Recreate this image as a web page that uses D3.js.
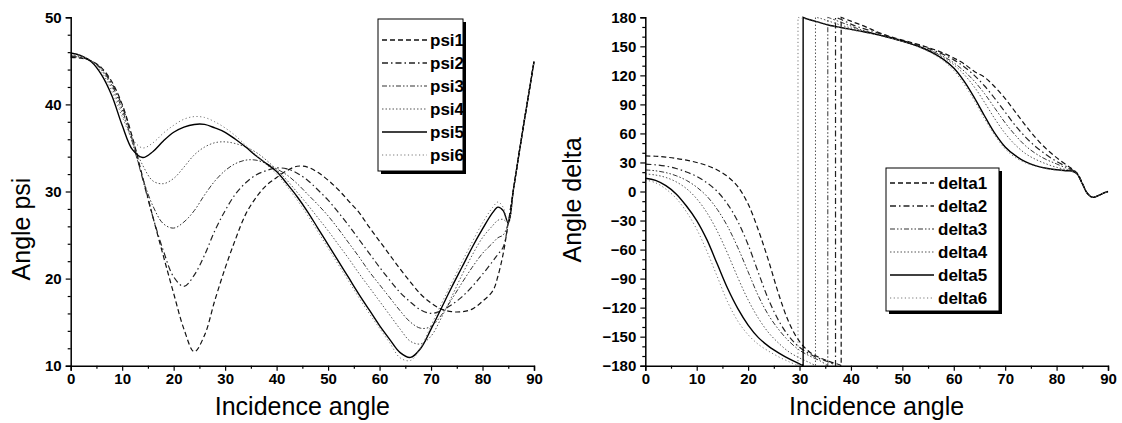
<!DOCTYPE html>
<html>
<head>
<meta charset="utf-8">
<script src="https://cdn.jsdelivr.net/npm/d3@7/dist/d3.min.js"></script>
<style>
  body { margin: 0; background: #fff; }
  svg text { font-family: "Liberation Sans", Arial, sans-serif; }
</style>
</head>
<body>
<div id="app"></div>
<script>
// incidence angles shared by every curve
const angles = [0,2,4,6,8,10,12,14,16,18,20,22,24,26,28,30,32,34,36,38,40,42,44,46,48,50,52,54,56,58,60,62,64,66,68,70,72,74,76,78,80,82,83,84,85,86,87,88,89,90];

const psiNames = ['psi1', 'psi2', 'psi3', 'psi4', 'psi5', 'psi6'];
const psi1 = [45.4,45.3,45.0,44.2,42.6,40.0,36.2,31.6,27.0,22.6,18.3,14.2,11.6,13.5,17.5,21.2,24.5,27.4,29.3,30.7,31.6,32.4,32.9,32.8,32.2,31.3,30.2,28.9,27.6,25.9,24.3,22.7,21.1,19.6,18.2,17.2,16.5,16.2,16.2,16.5,17.4,18.6,20.3,22.8,26.4,30.2,34.0,37.7,41.3,44.9];
const psi2 = [45.5,45.4,45.0,44.1,42.4,39.8,35.9,31.4,27.0,23.2,20.2,19.1,20.4,22.7,25.5,27.8,29.7,31.0,31.9,32.4,32.7,32.6,32.1,31.3,30.2,29.0,27.6,26.1,24.5,22.9,21.3,19.8,18.4,17.3,16.4,16.0,16.3,17.0,17.9,19.1,20.5,22.0,22.8,23.6,26.4,30.2,34.0,37.7,41.3,44.9];
const psi3 = [45.6,45.4,45.0,44.0,42.2,39.4,35.6,31.5,28.3,26.3,25.8,26.5,27.8,29.6,31.2,32.4,33.2,33.6,33.6,33.2,32.6,31.9,30.9,29.7,28.5,27.2,25.7,24.1,22.5,20.8,19.3,17.8,16.3,15.0,14.3,14.5,15.8,17.6,19.5,21.3,22.9,24.1,24.7,25.0,26.4,30.2,34.0,37.7,41.3,44.9];
const psi4 = [45.7,45.5,45.0,43.9,41.9,39.0,35.8,33.0,31.2,30.9,31.5,32.8,34.2,35.1,35.6,35.7,35.5,35.1,34.5,33.6,32.5,31.3,29.9,28.5,27.0,25.5,23.9,22.3,20.6,19.0,17.4,15.8,14.2,12.8,12.5,13.4,15.5,17.9,20.4,22.7,24.7,26.1,26.7,26.8,26.4,30.2,34.0,37.7,41.3,44.9];
const psi5 = [45.9,45.6,44.9,43.4,41.0,37.6,34.8,33.9,34.6,35.8,36.8,37.4,37.7,37.7,37.3,36.8,36.0,35.1,34.1,33.2,32.3,30.9,29.4,27.7,25.8,23.9,22.0,20.1,18.2,16.4,14.6,13.0,11.5,10.95,12.0,14.2,16.6,19.0,21.3,23.6,25.7,27.6,28.2,27.8,26.4,30.2,34.0,37.7,41.3,44.9];
const psi6 = [45.8,45.6,45.0,43.7,41.5,38.6,36.0,35.0,35.6,36.7,37.6,38.3,38.6,38.5,38.0,37.3,36.4,35.3,34.2,33.1,32.0,30.6,29.0,27.3,25.4,23.5,21.6,19.7,17.8,16.0,14.3,12.6,10.9,10.6,12.1,14.6,17.1,19.5,21.9,24.2,26.4,28.2,28.8,28.2,26.4,30.2,34.0,37.7,41.3,44.9];

const deltaNames = ['delta1', 'delta2', 'delta3', 'delta4', 'delta5', 'delta6'];
// angle where each delta curve wraps from -180 to 180
const deltaJump = [38.1, 37.0, 35.5, 33.1, 30.7, 29.7];
const delta1 = [36.8,36.4,35.5,34.2,32.4,30,26.8,22.3,15.5,5,-13,-40,-72,-107,-136,-155,-166,-172,-176,-179.5,176,172,167.5,163,159.5,156.5,153.5,150.5,147,143,138,132,124,118,108,96,82,68,55,44,35,27,23.5,19,9,-2,-6,-4.5,-2,0];
const delta2 = [28.2,27.6,26.2,23.8,20.2,15.5,9,0,-13,-31,-55,-84,-112,-134,-150,-161,-168,-173,-177,178,173,169,166,162.5,159,156,153,150,146,141.5,136,129,120,109,96,82,68,56,46,38,31,25.5,22.5,18.5,8,-2,-6,-4.5,-2,0];
const delta3 = [22.3,21.4,19.5,16.3,11.5,4.5,-5,-18.5,-36,-58,-83,-108,-128,-143,-155,-164,-170,-175,179,175,171,167,164,161,158,155,152,148.5,144.5,139.5,133,124.5,114,101,86,71,58,47,39,33,28.5,24,22,18.5,8,-2,-6,-4.5,-2,0];
const delta4 = [18.2,17,14.5,10,3,-7.5,-22,-41,-64,-89,-112,-131,-146,-157,-166,-172,-177,179,175.5,172,169,166.5,164,161,158,155,152,148.5,144,138.5,131,121,108,92,75,60,48,39,33,28.5,25,22.5,21.5,18.5,8,-2,-6,-4.5,-2,0];
const delta5 = [13.7,11.5,6,-2.5,-15,-30,-50,-75,-100,-121,-138,-151,-160,-167,-173,-178,177.5,174.5,171.5,169.5,167.5,165.5,163.5,161,158.5,155.5,152,148,143,136.5,127.5,114,97,78,60,46,37,30.5,26.5,24,22.5,21.5,21,18,8,-2,-6,-4.5,-2,0];
const delta6 = [12,9,2.5,-7,-21,-39,-62,-88,-114,-134,-148,-158,-165,-171,-176,179.5,177,174,171,169,167,165,163,160.5,158,155,151.5,147.5,142,135,125,111,94,75,58,44,35,29.5,26,23.5,22,21,20.5,18,8,-2,-6,-4.5,-2,0];

const angleTicks = [0,10,20,30,40,50,60,70,80,90];
const angleMinor = [5,15,25,35,45,55,65,75,85];
const psiTicks = [10,20,30,40,50];
const psiMinor = [12,14,16,18,22,24,26,28,32,34,36,38,42,44,46,48];
const deltaTicks = [-180,-150,-120,-90,-60,-30,0,30,60,90,120,150,180];
const deltaMinor = d3.range(-170, 180, 10).filter(v => v % 30 !== 0);

const lineStyles = [
  { dash: '5,3', width: 1.2, color: '#111' },
  { dash: '6,3,1.5,3', width: 1.2, color: '#222' },
  { dash: '5,2,1.5,2,1.5,2', width: 1, color: '#333' },
  { dash: '1.5,2', width: 1, color: '#555' },
  { dash: null, width: 1.4, color: '#000' },
  { dash: '1.2,2.5', width: 1, color: '#777' }
];

const W = 1122, H = 423;

const svg = d3.select('#app').append('svg')
  .attr('width', W)
  .attr('height', H)
  .attr('viewBox', [0, 0, W, H]);

function drawAxes(g, x, y, conf) {
  const bottom = y.range()[0];
  const left = x.range()[0];

  const xAx = g.append('g')
    .attr('transform', `translate(0,${bottom})`)
    .call(d3.axisBottom(x).tickValues(angleTicks).tickSize(5).tickPadding(3).tickFormat(d3.format('d')));
  g.append('g')
    .attr('transform', `translate(0,${bottom})`)
    .call(d3.axisBottom(x).tickValues(angleMinor).tickSize(3).tickFormat(''))
    .call(a => a.select('.domain').remove());

  const yAx = g.append('g')
    .attr('transform', `translate(${left},0)`)
    .call(d3.axisLeft(y).tickValues(conf.yTicks).tickSize(5).tickPadding(4).tickFormat(d3.format('d')));
  g.append('g')
    .attr('transform', `translate(${left},0)`)
    .call(d3.axisLeft(y).tickValues(conf.yMinor).tickSize(3).tickFormat(''))
    .call(a => a.select('.domain').remove());

  g.selectAll('.domain').attr('stroke', '#000').attr('stroke-width', 1.5);
  g.selectAll('.tick line').attr('stroke', '#000').attr('stroke-width', 1.2);
  [xAx, yAx].forEach(a => a.selectAll('text')
    .attr('fill', '#000')
    .style('font-size', '15px')
    .style('font-weight', 'bold'));

  // axis titles
  g.append('text')
    .attr('x', (x.range()[0] + x.range()[1]) / 2)
    .attr('y', 415)
    .attr('text-anchor', 'middle')
    .style('font-size', '25px')
    .text('Incidence angle');

  g.append('text')
    .attr('transform', `translate(${conf.titleX},${conf.titleY}) rotate(-90)`)
    .attr('text-anchor', 'middle')
    .style('font-size', '25px')
    .text(conf.title);
}

function drawLegend(g, names, box) {
  g.append('rect')
    .attr('x', box.x + 3).attr('y', box.y + 3)
    .attr('width', box.w).attr('height', box.h)
    .attr('fill', '#000');
  g.append('rect')
    .attr('x', box.x).attr('y', box.y)
    .attr('width', box.w).attr('height', box.h)
    .attr('fill', '#fff')
    .attr('stroke', '#000')
    .attr('stroke-width', 1);

  names.forEach((n, i) => {
    const yy = box.first + i * box.step;
    const s = lineStyles[i];
    g.append('line')
      .attr('x1', box.lx1).attr('x2', box.lx2)
      .attr('y1', yy).attr('y2', yy)
      .attr('stroke', s.color)
      .attr('stroke-width', s.width + 0.2)
      .attr('stroke-dasharray', s.dash);
    g.append('text')
      .attr('x', box.tx)
      .attr('y', yy + 6)
      .style('font-size', '17px')
      .style('font-weight', 'bold')
      .text(n);
  });
}

// ---- left panel: psi ----
const xL = d3.scaleLinear().domain([0, 90]).range([70.7, 534]);
const yL = d3.scaleLinear().domain([10, 50]).range([365.7, 17.3]);
const gL = svg.append('g');

const psiSeries = [psi1, psi2, psi3, psi4, psi5, psi6];
const psiLine = d3.line()
  .x(d => xL(d[0]))
  .y(d => yL(d[1]))
  .curve(d3.curveCatmullRom.alpha(0.5));

gL.selectAll('path.psi')
  .data(psiSeries)
  .enter()
  .append('path')
  .attr('class', 'psi')
  .attr('d', vals => psiLine(angles.map((a, i) => [a, vals[i]])))
  .attr('fill', 'none')
  .attr('stroke', (d, i) => lineStyles[i].color)
  .attr('stroke-width', (d, i) => lineStyles[i].width)
  .attr('stroke-dasharray', (d, i) => lineStyles[i].dash);

drawAxes(gL, xL, yL, { yTicks: psiTicks, yMinor: psiMinor, title: 'Angle psi', titleX: 30, titleY: 229 });
drawLegend(gL, psiNames, { x: 378, y: 19, w: 85, h: 152, first: 40, step: 23, lx1: 382, lx2: 427, tx: 430 });

// ---- right panel: delta ----
const xR = d3.scaleLinear().domain([0, 90]).range([645.3, 1108]);
const yR = d3.scaleLinear().domain([-180, 180]).range([365.7, 17.3]);
const gR = svg.append('g');

const deltaSeries = [delta1, delta2, delta3, delta4, delta5, delta6];
const deltaLine = d3.line()
  .x(d => xR(d[0]))
  .y(d => yR(d[1]))
  .curve(d3.curveCatmullRom.alpha(0.5));

function deltaPath(vals, i) {
  const j = deltaJump[i];
  const before = angles.map((a, k) => [a, vals[k]]).filter(p => p[0] < j);
  before.push([j, -180]);
  const after = [[j, 180]].concat(angles.map((a, k) => [a, vals[k]]).filter(p => p[0] > j));
  return deltaLine(before) + deltaLine(after).replace(/^M/, 'L');
}

gR.selectAll('path.delta')
  .data(deltaSeries)
  .enter()
  .append('path')
  .attr('class', 'delta')
  .attr('d', (vals, i) => deltaPath(vals, i))
  .attr('fill', 'none')
  .attr('stroke', (d, i) => lineStyles[i].color)
  .attr('stroke-width', (d, i) => lineStyles[i].width)
  .attr('stroke-dasharray', (d, i) => lineStyles[i].dash);

drawAxes(gR, xR, yR, { yTicks: deltaTicks, yMinor: deltaMinor, title: 'Angle delta', titleX: 581, titleY: 200 });
drawLegend(gR, deltaNames, { x: 886, y: 168, w: 113, h: 143, first: 183, step: 23, lx1: 890, lx2: 934, tx: 938 });
</script>
</body>
</html>
